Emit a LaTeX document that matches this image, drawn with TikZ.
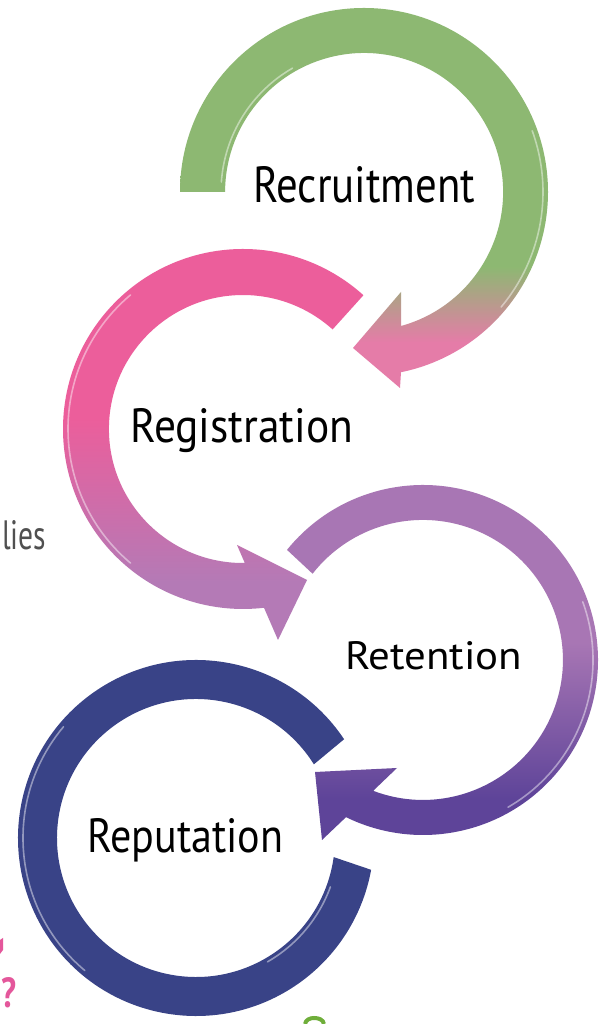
\documentclass[tikz,border=0pt]{standalone}
\usepackage{fontspec}
\setmainfont{PT Sans}
\usepackage{graphicx}
\definecolor{gr}{HTML}{8DB872}
\definecolor{grpk}{HTML}{E57CA8}
\definecolor{pk}{HTML}{EC5E9B}
\definecolor{mv}{HTML}{B47AB6}
\definecolor{pl}{HTML}{A876B4}
\definecolor{pld}{HTML}{5E4499}
\definecolor{nv}{HTML}{394387}
\definecolor{txtgray}{HTML}{505050}
\definecolor{qpink}{HTML}{E4579B}
\definecolor{leaf}{HTML}{6FAE3A}
\pgfdeclareverticalshading{greenring}{100bp}{color(0bp)=(grpk); color(31bp)=(grpk); color(41bp)=(gr); color(100bp)=(gr)}
\pgfdeclareverticalshading{pinkring}{100bp}{color(0bp)=(mv); color(32bp)=(mv); color(52bp)=(pk); color(100bp)=(pk)}
\pgfdeclareverticalshading{purplering}{100bp}{color(0bp)=(pld); color(32bp)=(pld); color(52bp)=(pl); color(100bp)=(pl)}
\begin{document}
\begin{tikzpicture}[x=1pt,y=1pt,
  word/.style={inner sep=0pt, anchor=base west, text=black},
  shine/.style={white, opacity=.45, line width=1.6pt, line cap=round}]
\useasboundingbox (0,0) rectangle (603,1024);
\fill[white] (0,0) rectangle (603,1024);
\coordinate (gc) at (364,832);
\coordinate (kc) at (243,595);
\coordinate (pc) at (423,364);
\coordinate (nc) at (196,186);
% green ring (Recruitment)
\shade[shading=greenring] ([shift={(gc)}]180:184) arc[start angle=180,end angle=-78.4,radius=184]
  -- (400,636) -- (353,676) -- (401,732) -- (401,698)
  arc[start angle=-74.6,end angle=180,radius=139] -- cycle;
\draw[shine] ([shift={(gc)}]176:143) arc[start angle=176,end angle=120,radius=143];
\draw[shine] ([shift={(gc)}]20:179) arc[start angle=20,end angle=-40,radius=179];
% pink ring (Registration)
\shade[shading=pinkring] ([shift={(kc)}]48:180) arc[start angle=48,end angle=276.7,radius=180]
  -- (278,384) -- (307,444) -- (237,479) -- (244.8,461)
  arc[start angle=270.8,end angle=48,radius=134] -- cycle;
\draw[shine] ([shift={(kc)}]130:175) arc[start angle=130,end angle=230,radius=175];
% purple ring (Retention)
\shade[shading=purplering] ([shift={(pc)}]141:175) arc[start angle=141,end angle=-116.1,radius=175]
  -- (322,184) -- (315,252) -- (397,256) -- (373.2,233.2)
  arc[start angle=-110.8,end angle=142,radius=140] -- cycle;
\draw[shine] ([shift={(pc)}]20:170) arc[start angle=20,end angle=-60,radius=170];
% navy ring (Reputation)
\fill[nv] ([shift={(nc)}]33.7:178) arc[start angle=33.7,end angle=349.7,radius=178]
  -- ([shift={(nc)}]352.1:139) arc[start angle=352.1,end angle=32,radius=139] -- cycle;
\draw[shine] ([shift={(nc)}]140:173) arc[start angle=140,end angle=230,radius=173];
\draw[shine] ([shift={(nc)}]340:143) arc[start angle=340,end angle=300,radius=143];
% labels
\node[word] (rec) at (253,821) {\resizebox{222pt}{36pt}{Recruitment}};
\node[word] (reg) at (130,581) {\resizebox{223pt}{34pt}{Registration}};
\node[word] (ret) at (345,354) {\resizebox{177pt}{28pt}{Retention}};
\node[word] (rep) at (87,171) {\resizebox{196pt}{34pt}{Reputation}};
% page fragments
\node[inner sep=0pt, anchor=base west, text=txtgray] (lies) at (2,474) {\resizebox{44pt}{29pt}{lies}};
\node[inner sep=0pt, anchor=base west, text=qpink, font=\bfseries] (q) at (1,16) {\resizebox{15pt}{30pt}{?}};
\fill[qpink] (0,70) -- (3,74) -- (3,86) -- (0,84) -- cycle;
\draw[leaf, line width=4pt] (305,0) to[out=80,in=180] (314,6) to[out=0,in=100] (324,0);
\end{tikzpicture}
\end{document}
